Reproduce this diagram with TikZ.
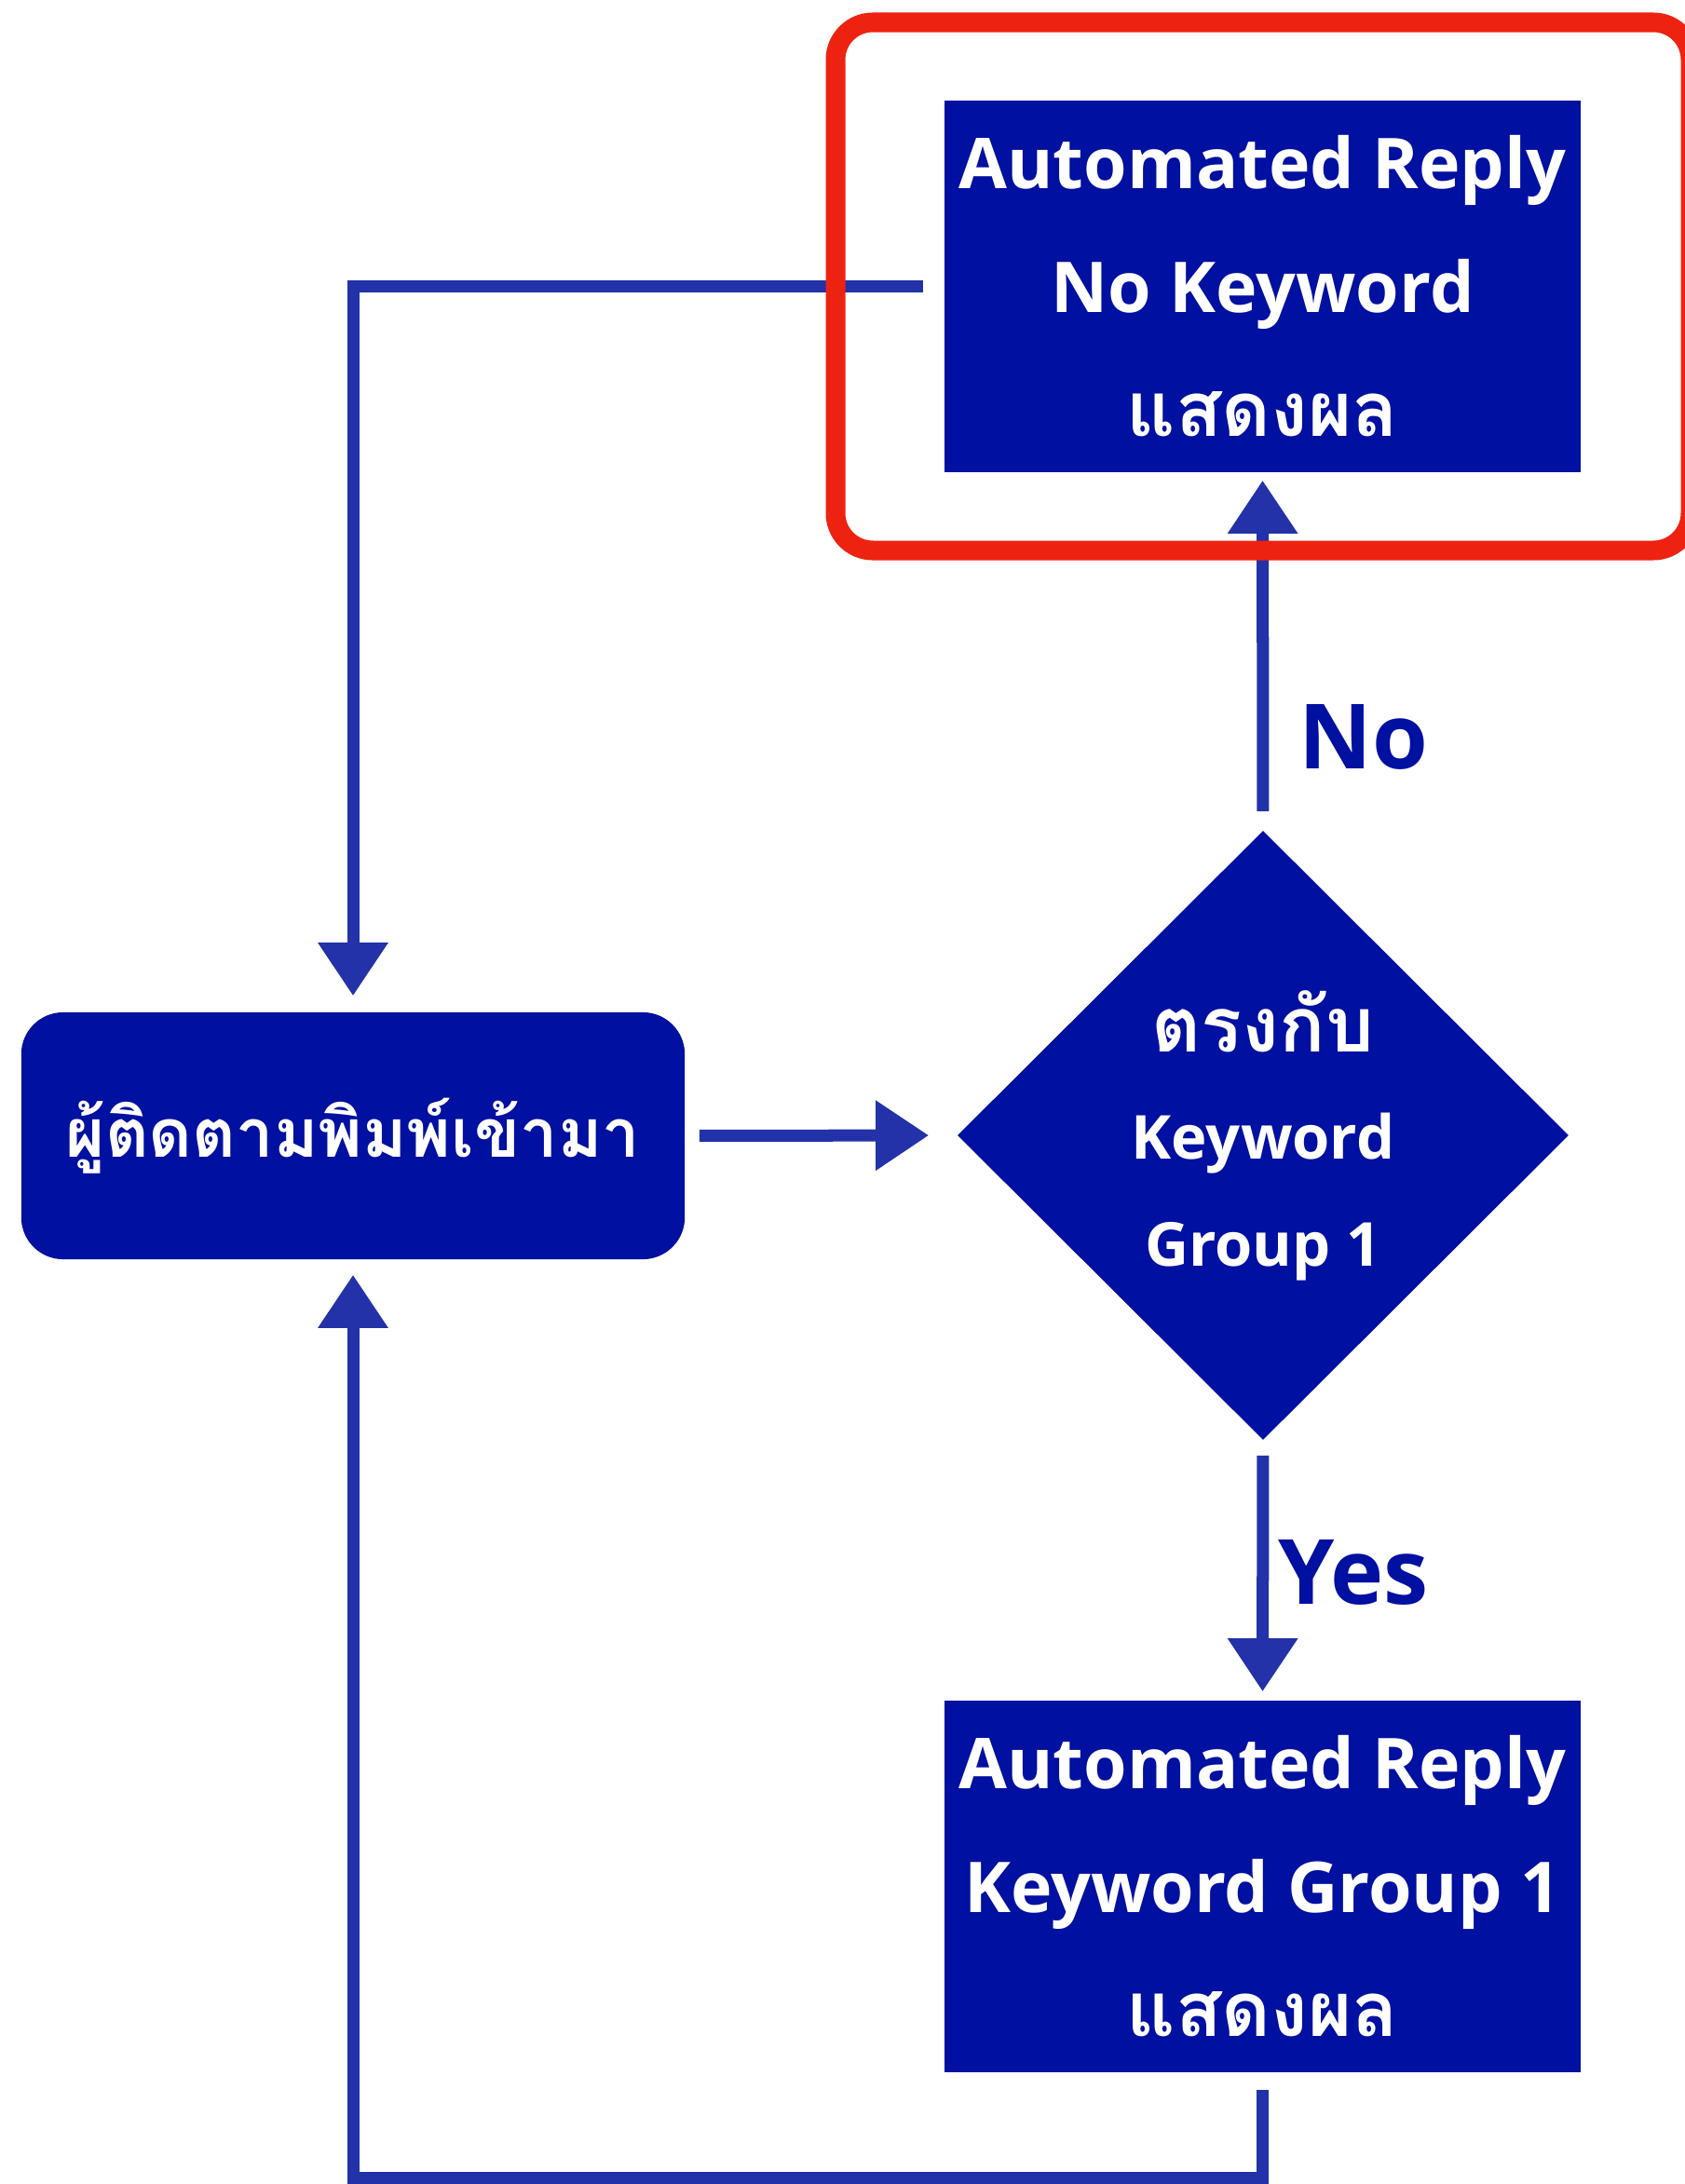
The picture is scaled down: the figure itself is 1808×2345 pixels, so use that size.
\documentclass[tikz,border=0pt]{standalone}
\usepackage{fontspec}
\setmainfont{Open Sans}
\newfontfamily\thaifont[Script=Thai, Scale=1.08]{Loma}
\usetikzlibrary{arrows.meta, shapes.geometric}

\definecolor{boxblue}{HTML}{0010A0}
\definecolor{chalkblue}{HTML}{2332A8}
\definecolor{markred}{HTML}{EE2210}

\tikzset{
  replybox/.style={fill=boxblue, text=white, inner sep=0pt, minimum width=6.83cm, minimum height=3.99cm,
    align=center, font=\fontsize{21.4}{37.8}\selectfont\bfseries},
  startbox/.style={fill=boxblue, text=white, rounded corners=0.45cm, minimum width=7.12cm, minimum height=2.65cm,
    font=\fontsize{19}{30}\selectfont\bfseries\thaifont},
  decision/.style={diamond, fill=boxblue, text=white, inner sep=0pt, minimum width=6.56cm, minimum height=6.54cm,
    align=center, font=\fontsize{18.5}{32.7}\selectfont\bfseries},
  flow/.style={draw=chalkblue, line width=0.13cm, -{Triangle[width=0.72cm,length=0.57cm,fill=chalkblue]}},
  answer/.style={text=boxblue, inner sep=0pt, anchor=base west, font=\fontsize{27.5}{34}\selectfont\bfseries}
}

\begin{document}
\begin{tikzpicture}[x=0.01cm, y=-0.01cm]
    \useasboundingbox (0,0) rectangle (1808,2345);

    % boxes
    \node[startbox] (inbox) at (379,1219.5) {ผู้ติดตามพิมพ์เข้ามา};
    \node[decision] (check) at (1356,1219) {{\thaifont\fontsize{21.5}{32.7}\selectfont ตรงกับ}\\ Keyword\\ Group 1};
    \node[replybox] (replyno) at (1355.5,307.5) {Automated Reply\\ No Keyword\\ {\thaifont แสดงผล}};
    \node[replybox] (replykw) at (1355.5,2025.5) {Automated Reply\\ Keyword Group 1\\ {\thaifont แสดงผล}};

    \node[answer] (no) at (1394,825) {No};
    \node[answer] (yes) at (1372,1722) {Yes};

    % connectors
    \coordinate (rail) at (0,2338);
    \draw[flow, shorten <=0.22cm, shorten >=0.17cm] (replyno.west) -| (inbox.north);
    \draw[flow, shorten <=0.15cm, shorten >=0.3cm] (inbox.east) -- (check.west);
    \draw[flow, shorten <=0.2cm, shorten >=0.08cm] (check.north) -- (replyno.south);
    \draw[flow, shorten <=0.16cm, shorten >=0.09cm] (check.south) -- (replykw.north);
    \draw[flow, shorten <=0.18cm, shorten >=0.16cm] (replykw.south) -- (replykw.south |- rail) -| (inbox.south);

    % highlight frame
    \draw[markred, line width=0.21cm, rounded corners=0.4cm] (897,24) rectangle (1815,591);
\end{tikzpicture}
\end{document}
